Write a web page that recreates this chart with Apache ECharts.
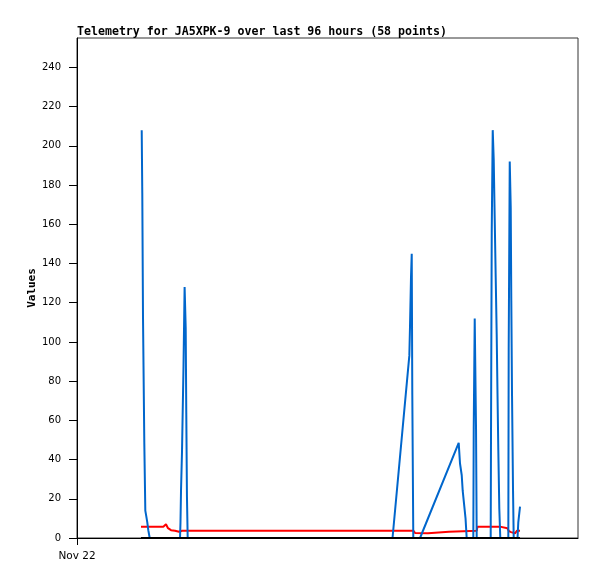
<!DOCTYPE html>
<html>
<head>
<meta charset="utf-8">
<script src="https://cdn.jsdelivr.net/npm/echarts@6/dist/echarts.min.js"></script>
<style>html,body{margin:0;padding:0;background:#fff}#c{width:597px;height:579px}</style>
</head>
<body>
<div id="c"></div>
<script>
// hours since start of axis (Nov 22)
var blueT = [12.40,12.51,12.65,12.90,13.09,13.28,13.47,13.66,13.93,19.74,19.83,19.93,20.12,20.41,20.62,20.83,20.94,21.07,21.21,60.46,63.68,63.81,64.00,64.14,64.25,64.44,65.73,73.14,73.39,73.72,73.91,74.22,74.45,74.67,75.94,76.02,76.21,76.46,76.59,79.27,79.33,79.47,79.66,79.85,80.04,80.23,80.42,80.57,80.73,80.92,81.11,82.65,82.72,82.92,83.11,83.22,83.36,83.55,83.68,84.41,84.56,84.89];
var blueV = [208,176,112,48,14,11,8,4,0,0,8,24,44,88,128,107,64,21,0,0,93,108,133,145,73,0,0,48.5,38,32,24,16,10,0,0,56,112,56,0,0,52,156,208,193,163,133,104,74.5,45,15,0,0,97,192,168.5,121,72.5,24.5,0,0,8,16];
var redT = [12.26,16.54,16.77,17.05,17.24,17.44,18.01,18.78,19.55,20.12,64.44,64.77,67.26,67.64,71.28,71.47,76.59,76.74,81.06,81.44,82.46,82.78,83.17,83.55,83.93,84.32,84.89];
var redV = [5.8,5.8,6.5,7,6,5,4,3.7,3.2,3.7,3.7,2.6,2.4,3,3.2,3.7,3.7,5.8,5.8,5,5,3.5,3,2.4,2.4,3.7,3.7];
var blackT = [12.26,84.89];
var blackV = [0,0];
var yTicks = [0,20,40,60,80,100,120,140,160,180,200,220,240];
var xLabel = 'Nov 22';

function pairs(t,v){return t.map(function(x,i){return [x,v[i]];});}

var chart = echarts.init(document.getElementById('c'));
chart.setOption({
  animation:false,
  title:{text:'Telemetry for JA5XPK-9 over last 96 hours (58 points)',left:77,top:26,padding:0,
    textStyle:{fontFamily:'DejaVu Sans Mono',fontWeight:'bold',fontSize:11.6,color:'#000'}},
  grid:{left:77,right:19,top:38,bottom:41,show:true,borderColor:'#333',borderWidth:1},
  xAxis:{type:'value',min:0,max:96,
    axisLine:{show:true,onZero:false,lineStyle:{color:'#000',width:1}},
    axisTick:{show:true,length:7,customValues:[0],lineStyle:{color:'#000'}},
    axisLabel:{customValues:[0],formatter:function(){return xLabel;},margin:13,
      fontFamily:'DejaVu Sans',fontSize:10.5,color:'#000'},
    splitLine:{show:false}},
  yAxis:{type:'value',min:0,max:255,interval:20,name:'Values',nameLocation:'middle',nameGap:39,nameRotate:90,
    nameMoveOverlap:false,
    nameTextStyle:{fontFamily:'DejaVu Sans Mono',fontWeight:'bold',fontSize:11,color:'#000'},
    axisLine:{show:true,lineStyle:{color:'#000',width:1}},
    axisTick:{show:true,length:8,customValues:yTicks,lineStyle:{color:'#000'}},
    axisLabel:{customValues:yTicks,margin:16,fontFamily:'DejaVu Sans',fontSize:10,color:'#000'},
    splitLine:{show:false}},
  series:[
    {type:'line',data:pairs(redT,redV),showSymbol:false,lineStyle:{color:'#ff0000',width:2},z:2},
    {type:'line',data:pairs(blueT,blueV),showSymbol:false,lineStyle:{color:'#0066cc',width:2},z:3},
    {type:'line',data:pairs(blackT,blackV),showSymbol:false,lineStyle:{color:'#000000',width:2},z:4}
  ]
});
</script>
</body>
</html>
